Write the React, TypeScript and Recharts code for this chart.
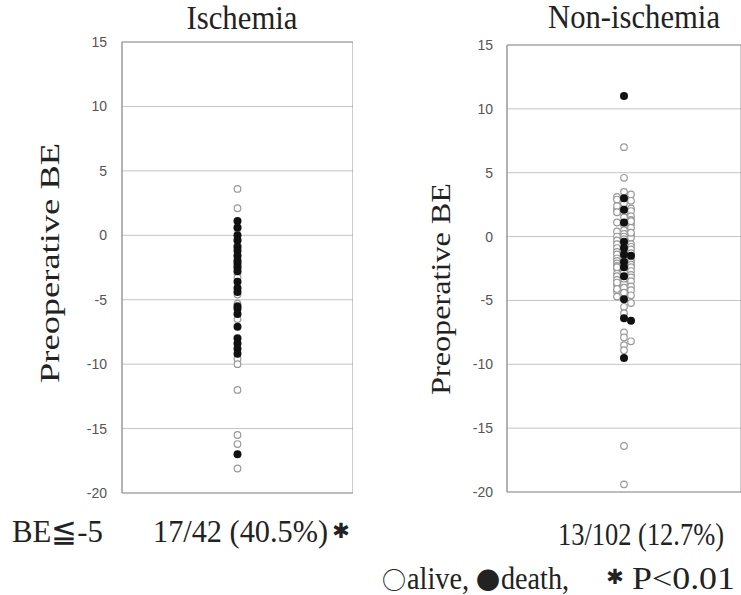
import React from 'react'
import { ScatterChart, Scatter, XAxis, YAxis, CartesianGrid, ReferenceArea } from 'recharts'

// Preoperative BE, one value per patient
const ISCH_ALIVE = [3.6, 2.1, 0.5, -0.3, -0.8, -1.5, -1.9, -2.4, -3.0, -3.3, -4.6, -5.3, -6.5, -9.6, -10.0, -12.0, -15.5, -16.2, -18.1]
const ISCH_DEATH = [1.1, 0.6, 0.0, -0.4, -0.9, -1.2, -1.6, -2.0, -2.2, -2.5, -2.8, -3.6, -4.1, -4.4, -5.5, -5.7, -6.1, -7.1, -8.0, -8.4, -8.8, -9.2, -17.0]

const NON_ALIVE = [
  7.0, 4.6, 3.5,
  3.3, 3.1, 2.8, 2.6, 2.2, 2.1, 2.0, 1.8, 1.6, 1.5,
  1.3, 1.1, 1.0, 0.9, 0.7, 0.5, 0.4, 0.2, 0.1, 0.0,
  0.0, -0.1, -0.2, -0.3, -0.6, -0.6, -0.8, -0.9, -1.0, -1.1,
  -1.2, -1.3, -1.4, -1.6, -1.7, -1.8, -1.9, -2.0, -2.1, -2.2,
  -2.3, -2.4, -2.5, -2.6, -2.7, -2.9, -3.0, -3.1, -3.2, -3.4,
  -3.4, -3.5, -3.7, -3.8, -3.9, -4.0, -4.2, -4.3, -4.4, -4.6,
  -4.7, 2.4, 1.2, -1.0, -1.5, -2.4, -3.3, 0.3, 2.9, -0.5,
  -2.8, -3.6, 1.9, -4.1,
  -5.2, -5.5, -6.0, -7.5, -7.9, -8.2, -8.5, -8.9, -16.4, -19.4,
]
const NON_DEATH = [11.0, 3.0, 2.1, 1.1, -0.4, -0.9, -1.4, -1.5, -2.0, -2.4, -3.1, -4.9, -6.4, -6.6, -9.5]

const Y_TICKS = [15, 10, 5, 0, -5, -10, -15, -20]

const SERIF = "'Liberation Serif', 'Times New Roman', serif"
const SANS = "'Liberation Sans', Arial, sans-serif"
const SYM = "'DejaVu Sans', sans-serif"
const CJK = "'Noto Sans CJK JP', sans-serif"

type Pt = { x: number; y: number }

// spread overlapping points sideways (simple swarm), x in px from centre
function swarm(alive: number[], death: number[], cols: number[], gap: number) {
  const placed: { col: number; v: number }[] = []
  const place = (v: number): Pt => {
    let best = cols[0]
    let bestDist = -1
    for (const c of cols) {
      const d = placed.filter(p => p.col === c).reduce((m, p) => Math.min(m, Math.abs(p.v - v)), 99)
      if (d >= gap) { best = c; bestDist = d; break }
      if (d > bestDist) { best = c; bestDist = d }
    }
    placed.push({ col: best, v })
    return { x: best, y: v }
  }
  const d = death.map(place)
  const a = alive.map(place)
  return { alive: a, death: d }
}

const OpenDot = (p: any) => <circle cx={p.cx} cy={p.cy} r={3.3} fill="#fff" stroke="#999" strokeWidth={1.2} />
const FullDot = (p: any) => <circle cx={p.cx} cy={p.cy} r={4} fill="#111" />

function Panel({ alive, death, width, axisW, top, bottom, tickMargin, cols }: {
  alive: number[]; death: number[]; width: number; axisW: number; top: number; bottom: number; tickMargin: number; cols: number[]
}) {
  const plotW = width - axisW
  const half = plotW / 2
  const pts = swarm(alive, death, cols, 0.3)
  return (
    <ScatterChart width={width} height={505} margin={{ top, right: 0, bottom, left: 0 }}>
      <CartesianGrid vertical={false} stroke="#c4c4c4" />
      <XAxis type="number" dataKey="x" domain={[-half, half]} hide />
      <YAxis
        type="number"
        dataKey="y"
        domain={[-20, 15]}
        ticks={Y_TICKS}
        width={axisW}
        axisLine={{ stroke: '#999' }}
        tickLine={false}
        tickMargin={tickMargin}
        tick={{ fill: '#555', fontSize: 14, fontFamily: SANS }}
        interval={0}
      />
      <ReferenceArea x1={-half} x2={half} y1={-20} y2={15} fill="none" stroke="#999" strokeWidth={1} />
      <Scatter data={pts.alive} shape={OpenDot} isAnimationActive={false} />
      <Scatter data={pts.death} shape={FullDot} isAnimationActive={false} />
    </ScatterChart>
  )
}

export default function App() {
  return (
    <div style={{ position: 'absolute', left: 0, top: 0, width: 741, height: 595, background: '#fff', overflow: 'hidden' }}>
      <div style={{ position: 'absolute', left: 0, top: 0 }}>
        <Panel alive={ISCH_ALIVE} death={ISCH_DEATH} width={353} axisW={122} top={42} bottom={12} tickMargin={9} cols={[0]} />
      </div>
      <div style={{ position: 'absolute', left: 380, top: 0 }}>
        <Panel alive={NON_ALIVE} death={NON_DEATH} width={361} axisW={127} top={45} bottom={13} tickMargin={8} cols={[0, 7, -7]} />
      </div>
      <svg width={741} height={595} style={{ position: 'absolute', left: 0, top: 0, pointerEvents: 'none' }}>
        <g fontFamily={SERIF} fill="#222">
          <text x={242} y={29} fontSize={34} textAnchor="middle" textLength={111} lengthAdjust="spacingAndGlyphs">Ischemia</text>
          <text x={634} y={28} fontSize={34} textAnchor="middle" textLength={172} lengthAdjust="spacingAndGlyphs">Non-ischemia</text>
          <text transform="translate(59,263) rotate(-90)" fontSize={28} textAnchor="middle" textLength={240} lengthAdjust="spacingAndGlyphs">Preoperative BE</text>
          <text transform="translate(450,289) rotate(-90)" fontSize={28} textAnchor="middle" textLength={212} lengthAdjust="spacingAndGlyphs">Preoperative BE</text>
          <text x={12} y={542} fontSize={32} textLength={91} lengthAdjust="spacingAndGlyphs">BE≦-5</text>
          <text x={153} y={542} fontSize={32} textLength={175} lengthAdjust="spacingAndGlyphs">17/42 (40.5%)</text>
          <text x={341} y={538} fontSize={21} textAnchor="middle" fontFamily={SYM}>✱</text>
          <text x={558} y={545} fontSize={32} textLength={166} lengthAdjust="spacingAndGlyphs">13/102 (12.7%)</text>
          <text x={382} y={589} fontSize={24} fontFamily={CJK}>○</text>
          <text x={407} y={589} fontSize={32} textLength={62} lengthAdjust="spacingAndGlyphs">alive,</text>
          <text x={476} y={589} fontSize={24} fontFamily={CJK}>●</text>
          <text x={501} y={589} fontSize={32} textLength={68} lengthAdjust="spacingAndGlyphs">death,</text>
          <text x={615} y={584} fontSize={21} textAnchor="middle" fontFamily={SYM}>✱</text>
          <text x={632} y={589} fontSize={32} textLength={103} lengthAdjust="spacingAndGlyphs">P&lt;0.01</text>
        </g>
      </svg>
    </div>
  )
}
